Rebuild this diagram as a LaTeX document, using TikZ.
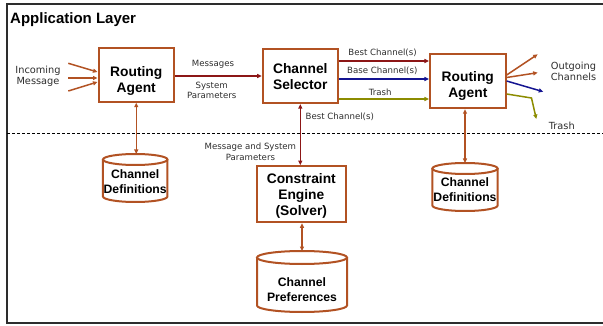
\documentclass[tikz,border=0pt]{standalone}
\usepackage{fontspec}
\setmainfont{Liberation Sans}
\newfontfamily\lblfont{DejaVu Sans}
\usetikzlibrary{arrows.meta,calc}
\definecolor{boxc}{RGB}{178,82,35}
\definecolor{redc}{RGB}{140,22,22}
\definecolor{bluec}{RGB}{20,20,145}
\definecolor{olivec}{RGB}{140,140,0}
\definecolor{framec}{RGB}{45,45,45}
\definecolor{lblc}{RGB}{45,45,45}
\newcommand\cylout[3]{%
  \draw[cylline] ([yshift=-#3pt]#1.north) ellipse [x radius=#2pt, y radius=#3pt];
  \draw[cylline] ([yshift=-#3pt]#1.north west) -- ([yshift=#3pt]#1.south west)
    arc[start angle=180, end angle=360, x radius=#2pt, y radius=#3pt]
    -- ([yshift=-#3pt]#1.north east);
}
\begin{document}
\begin{tikzpicture}[x=1pt,y=-1pt,
  box/.style={draw=boxc, line width=2pt, fill=white, inner sep=0pt, outer sep=1pt},
  boxtext/.style={align=center, inner sep=0pt, font=\bfseries\fontsize{13.8}{16}\selectfont},
  cylbody/.style={draw=none, inner sep=0pt, outer sep=0pt},
  cylline/.style={draw=boxc, line width=2pt},
  cyltext/.style={align=center, inner sep=0pt, font=\bfseries\fontsize{12.2}{15}\selectfont},
  lbl/.style={align=center, text=lblc, inner sep=0pt, font=\lblfont\fontsize{8.6}{10.4}\selectfont},
  biglbl/.style={align=center, text=lblc, inner sep=0pt, font=\lblfont\fontsize{9.8}{11}\selectfont},
  tip/.tip={Triangle[length=4.5pt,width=4pt]},
  arr/.style={line width=1.5pt, -tip},
  darr/.style={line width=1.5pt, tip-tip},
]
\useasboundingbox (0,0) rectangle (603,326);
% frame and separator
\draw[framec, line width=1.3pt] (7,4) rectangle (604,323);
\draw[black, line width=0.8pt, dash pattern=on 3pt off 2pt] (7,133) -- (603,133);
\node[anchor=base west, inner sep=0pt, font=\bfseries\fontsize{15}{18}\selectfont] (title) at (10,24) {Application Layer};

% boxes
\node[box, minimum width=75.5pt, minimum height=53.5pt,
  label={[boxtext, yshift=-6pt]center:Routing\\Agent}] (RA1) at (136.25,75) {};
\node[box, minimum width=75.3pt, minimum height=53.7pt,
  label={[boxtext, yshift=-0.5pt]center:Channel\\Selector}] (CS) at (300.3,76.2) {};
\node[box, minimum width=75.7pt, minimum height=54.3pt,
  label={[boxtext, yshift=-4.6pt]center:Routing\\Agent}] (RA2) at (467.8,81) {};
\node[box, minimum width=88.7pt, minimum height=56.3pt,
  label={[boxtext, yshift=-1.4pt]center:Constraint\\Engine\\(Solver)}] (CE) at (301.3,194.2) {};

% cylinders
\node[cylbody, minimum width=64.5pt, minimum height=48pt] (DefL) at (135.2,178) {};
\cylout{DefL}{32.25}{5.5}
\node[cyltext] (DefLt) at ([yshift=-3.8pt]DefL.center) {Channel\\Definitions};
\node[cylbody, minimum width=65.3pt, minimum height=48pt] (DefR) at (465,187) {};
\cylout{DefR}{32.65}{5.5}
\node[cyltext] (DefRt) at ([yshift=-3pt]DefR.center) {Channel\\Definitions};
\node[cylbody, minimum width=90pt, minimum height=61pt] (Pref) at (302,281.5) {};
\cylout{Pref}{45}{6.5}
\node[cyltext] (Preft) at ([yshift=-8.2pt]Pref.center) {Channel\\Preferences};

% incoming arrows
\coordinate (inA) at (68.3,63.3);
\coordinate (inB) at (68.3,78);
\coordinate (inC) at (68.3,91);
\draw[arr, boxc] (inA) -- (RA1.west |- 0,72);
\draw[arr, boxc] (inB) -- (RA1.west |- 0,78);
\draw[arr, boxc] (inC) -- (RA1.west |- 0,82);
\node[biglbl] (inc) at (38,76.3) {Incoming\\Message};

% RA1 -> CS
\draw[arr, redc] (RA1.east |- 0,76) -- (CS.west |- 0,76);
\node[lbl] (msg) at (213,64.7) {Messages};
\node[lbl] (sysp) at (211.7,90.3) {System\\Parameters};

% CS -> RA2
\draw[arr, redc] (CS.east |- 0,61) -- (RA2.west |- 0,61);
\draw[arr, bluec] (CS.east |- 0,79) -- (RA2.west |- 0,79);
\draw[arr, olivec] (CS.east |- 0,99) -- (RA2.west |- 0,99);
\node[lbl] (lbest) at (382.5,53.3) {Best Channel(s)};
\node[lbl] (lbase) at (382.3,71.3) {Base Channel(s)};
\node[lbl] (ltrash) at (380.2,92.3) {Trash};

% outgoing
\coordinate (outA) at (537.7,54.3);
\coordinate (outB) at (537.7,72.7);
\coordinate (outC) at (543.3,91.7);
\coordinate (trJ) at (531.5,98);
\coordinate (trE) at (536.3,119);
\draw[arr, boxc] (RA2.east |- 0,75) -- (outA);
\draw[arr, boxc] (RA2.east |- 0,77.5) -- (outB);
\draw[arr, bluec] (RA2.east |- 0,81) -- (outC);
\draw[arr, olivec] (RA2.east |- 0,94) -- (trJ) -- (trE);
\node[biglbl] (outg) at (573.5,71.5) {Outgoing\\Channels};
\node[biglbl] (ltrash2) at (561.8,125.5) {Trash};

% vertical connectors
\draw[darr, boxc] (RA1.south) -- (RA1.south |- DefL.north);
\draw[darr, boxc] (DefR.north |- RA2.south) -- (DefR.north);
\draw[darr, redc] (CS.south) -- (CS.south |- CE.north);
\draw[darr, boxc] (Pref.north |- CE.south) -- (Pref.north);
\node[lbl] (lbest2) at (339.8,117.3) {Best Channel(s)};
\node[lbl] (lmsp) at (250.4,151.7) {Message and System\\Parameters};
\end{tikzpicture}
\end{document}
